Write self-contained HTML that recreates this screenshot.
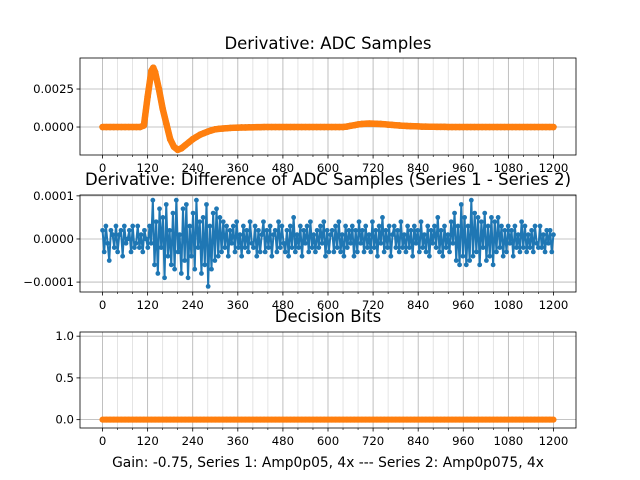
<!DOCTYPE html>
<html><head><meta charset="utf-8"><style>
body{margin:0;background:#fff}
svg{display:block;font-family:"DejaVu Sans","Liberation Sans",sans-serif}
</style></head><body>
<svg id="fig" width="640" height="480" viewBox="0 0 640 480"></svg>
<script>
// Series 1 derivative, x = 0..1200 step 10
const derivX10 = [0,0,0,0,0,0,0,0,0,0,0,0.0001,0.002,0.0037,0.0036,0.0025,0.0012,0.0002,-0.0008,-0.0013,
-0.0015,-0.0014,-0.0012,-0.001,-0.0008,-0.00065,-0.0005,-0.0004,-0.0003,-0.00022,-0.00015,-0.00012,-0.0001,-0.00008,-0.00006,-0.00005,-0.00004,-0.00003,-0.00003,-0.00002,
-0.00002,-0.00001,-0.00001,0,0,0,0,0,0,0,0,0,0,0,0,0,0,0,0,0,
0,0,0,0,0,0.00003,0.00008,0.00012,0.00017,0.0002,0.00022,0.00023,0.00022,0.00021,0.0002,0.00018,0.00016,0.00014,0.00012,0.0001,
0.00008,0.00007,0.00006,0.00005,0.00004,0.00003,0.00003,0.00002,0.00002,0.00001,0.00001,0.00001,0,0,0,0,0,0,0,0,
0,0,0,0,0,0,0,0,0,0,0,0,0,0,0,0,0,0,0,0,0];
const peakIdx = [135]; const peakVal = [0.0039];
// Difference series (units of 1e-5), evenly spaced over x = 0..1200
const diffVals = [
2,-3,3,-1,-5,2,1,-2,3,-3, 1,2,-4,3,-1,0,2,-3,3,-2, -1,3,-2,1,-3,2,0,-2,3,-1,
9,-6,4,-8,7,-2,5,-9,8,-4, 2,-6,6,-7,9,-3,1,-8,7,-5, 8,-9,3,-4,6,-7,9,-2,4,-8,
5,-6,8,-11,3,-7,6,-5,7,-4, 5,-3,4,-2,3,-4,2,-1,3,-3, 4,-2,1,-4,3,-2,2,-3,4,-1,
-2,3,-4,2,-3,1,4,-3,2,-2, 3,-4,1,2,-3,4,-2,3,-1,-3, 2,-4,3,-2,5,-3,1,-2,3,-4,
2,-1,3,-3,4,-2,1,-3,2,-2, 3,-1,4,-4,2,-3,1,2,-3,3, -2,4,-3,1,-4,3,-2,2,-1,3,
-4,2,-3,4,-1,2,-3,3,-2,1, -3,4,-2,2,-4,3,-1,5,-3,2, -2,3,-4,1,3,-2,2,-3,4,-2,
1,-3,3,-2,2,-4,3,-1,2,-3, 4,-2,1,-3,3,-4,2,-1,3,-2, 5,-3,2,-4,3,-2,1,-3,4,-1,
6,-5,3,-6,8,-4,5,-6,3,-5, 9,-4,6,-3,5,-6,4,-2,6,-5, 3,-4,5,-6,4,-3,5,-2,3,-4,
2,-3,3,-1,2,-4,3,-2,1,-3, 4,-2,3,-3,1,-2,2,-3,3,-1, -2,3,-2,1,-3,2,-1,2,-3,1];
// Decision bits, x = 0..1200 step 10
const bitVals = [0,0,0,0,0,0,0,0,0,0,0,0,0,0,0,0,0,0,0,0,0,0,0,0,0,0,0,0,0,0,0,0,0,0,0,0,0,0,0,0,0,0,0,0,0,0,0,0,0,0,0,0,0,0,0,0,0,0,0,0,0,0,0,0,0,0,0,0,0,0,0,0,0,0,0,0,0,0,0,0,0,0,0,0,0,0,0,0,0,0,0,0,0,0,0,0,0,0,0,0,0,0,0,0,0,0,0,0,0,0,0,0,0,0,0,0,0,0,0,0,0];
const xTicks = [0,120,240,360,480,600,720,840,960,1080,1200];
const y1Ticks = [0.0025,0.0000]; const y1Labels = ["0.0025","0.0000"];
const y2Ticks = [0.0001,0,-0.0001]; const y2Labels = ["0.0001","0.0000","\u22120.0001"];
const y3Ticks = [1.0,0.5,0.0]; const y3Labels = ["1.0","0.5","0.0"];

const NS="http://www.w3.org/2000/svg", svg=document.getElementById('fig');
function mk(t,a,p){const e=document.createElementNS(NS,t);for(const k in a)e.setAttribute(k,a[k]);(p||svg).appendChild(e);return e;}
const X0=80,X1=576,xmin=-60,xmax=1260;
const sx=v=>X0+(v-xmin)/(xmax-xmin)*(X1-X0);
const TF=11.7, HF=16.5;

function axes(top,bot,ymin,ymax,yt,yl,title,ty,name){
  const g=mk('g',{});
  
  
  const sy=v=>bot-(v-ymin)/(ymax-ymin)*(bot-top);
  for(let v=0;v<=1200;v+=40){ if(v%120) { const l=mk('line',{x1:sx(v),x2:sx(v),y1:top,y2:bot,stroke:'#ddd','stroke-width':0.8},g);  
    mk('line',{x1:sx(v),x2:sx(v),y1:bot,y2:bot+2,stroke:'#000','stroke-width':0.6},g);} }
  xTicks.forEach(v=>{ const l=mk('line',{x1:sx(v),x2:sx(v),y1:top,y2:bot,stroke:'#b0b0b0','stroke-width':0.8},g);  
    mk('line',{x1:sx(v),x2:sx(v),y1:bot,y2:bot+3.5,stroke:'#000','stroke-width':0.8},g);
    const t=mk('text',{x:sx(v),y:bot+17,'font-size':TF,'text-anchor':'middle'},g); t.textContent=v;  });
  yt.forEach((v,i)=>{ mk('line',{x1:X0,x2:X1,y1:sy(v),y2:sy(v),stroke:'#b0b0b0','stroke-width':0.8},g);
    mk('line',{x1:X0-3.5,x2:X0,y1:sy(v),y2:sy(v),stroke:'#000','stroke-width':0.8},g);
    const t=mk('text',{x:X0-6,y:sy(v)+4,'font-size':TF,'text-anchor':'end'},g); t.textContent=yl[i];  });
  const tt=mk('text',{x:328,y:ty,'font-size':HF,'text-anchor':'middle'},g); tt.textContent=title;
   
  return {g,sy,top,bot};
}
function frame(a){const r=mk('rect',{x:X0,y:a.top,width:X1-X0,height:a.bot-a.top,fill:'none',stroke:'#000','stroke-width':0.8},a.g);}
function series(a,xs,ys,col,lw,r,name){
  const cp=mk('clipPath',{id:'c'+name}); mk('rect',{x:X0,y:a.top,width:X1-X0,height:a.bot-a.top},cp);
  const g=mk('g',{'clip-path':'url(#c'+name+')'},a.g);
  
  
  mk('polyline',{points:xs.map((x,i)=>sx(x)+','+a.sy(ys[i])).join(' '),fill:'none',stroke:col,'stroke-width':lw,'stroke-linejoin':'round','stroke-linecap':'round'},g);
  xs.forEach((x,i)=>mk('circle',{cx:sx(x),cy:a.sy(ys[i]),r:r,fill:col},g));
}
// Plot 1
const a1=axes(58,155,-0.00184,0.00454,y1Ticks,y1Labels,'Derivative: ADC Samples',49,'adc-derivative-axes');
const xs1=derivX10.map((_,i)=>i*10);
const d1x=[...xs1.slice(0,14),peakIdx[0],...xs1.slice(14)], d1y=[...derivX10.slice(0,14),peakVal[0],...derivX10.slice(14)];
series(a1,d1x,d1y,'#1f77b4',6,3.2,'series-1-derivative');
series(a1,d1x,d1y,'#ff7f0e',6.5,3.2,'series-2-derivative');
frame(a1);
// Plot 2
const a2=axes(195,292,-1.23e-4,1.02e-4,y2Ticks,y2Labels,'Derivative: Difference of ADC Samples (Series 1 - Series 2)',185,'difference-axes');
const nD=diffVals.length;
series(a2,diffVals.map((_,i)=>i*1200/(nD-1)),diffVals.map(v=>v*1e-5),'#1f77b4',2,2.4,'difference-series');
frame(a2);
// Plot 3
const a3=axes(332,428,-0.1,1.05,y3Ticks,y3Labels,'Decision Bits',322,'decision-bits-axes');
series(a3,bitVals.map((_,i)=>i*10),bitVals,'#ff7f0e',6,3,'decision-bits-series');
frame(a3);
const xl=mk('text',{x:328,y:467,'font-size':13.8,'text-anchor':'middle'}); xl.textContent='Gain: -0.75, Series 1: Amp0p05, 4x --- Series 2: Amp0p075, 4x';


</script>
</body></html>
